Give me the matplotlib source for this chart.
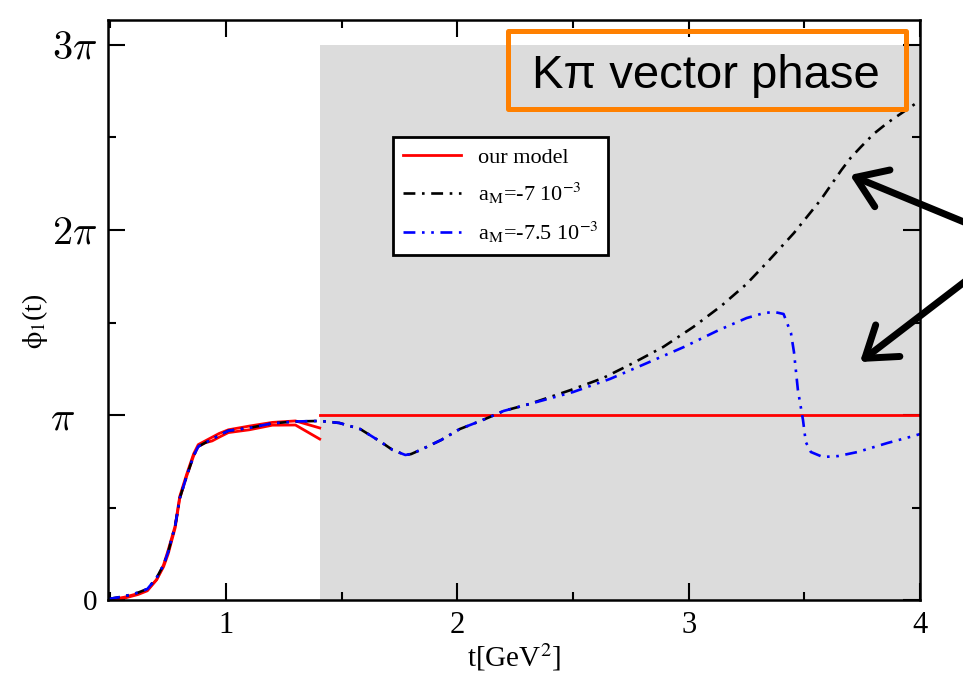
import numpy as np
import matplotlib.pyplot as plt
from matplotlib.patches import Rectangle, FancyArrowPatch
from matplotlib.font_manager import FontProperties

plt.rcParams['font.family'] = 'Liberation Serif'
plt.rcParams['mathtext.fontset'] = 'stix'

PI = np.pi

# low energy part (phase in units of pi), shared by the two a_M curves
t_low = [0.49, 0.56, 0.62, 0.66, 0.70, 0.73, 0.75, 0.78, 0.80, 0.83, 0.86, 0.88,
         0.91, 0.94, 0.97, 1.01, 1.10, 1.20, 1.30, 1.405]
phi_low = [0.005, 0.02, 0.04, 0.06, 0.12, 0.19, 0.26, 0.40, 0.55, 0.67, 0.78, 0.83,
           0.85, 0.87, 0.89, 0.915, 0.93, 0.955, 0.965, 0.968]

# our model: two red curves below the cut, then constant pi
phi_red_a = [0.0, 0.015, 0.035, 0.055, 0.11, 0.19, 0.27, 0.40, 0.56, 0.68, 0.79, 0.84,
             0.86, 0.88, 0.90, 0.92, 0.94, 0.96, 0.968, 0.93]
phi_red_b = [0.0, 0.01, 0.03, 0.05, 0.11, 0.18, 0.25, 0.39, 0.55, 0.67, 0.78, 0.83,
             0.85, 0.86, 0.88, 0.905, 0.92, 0.945, 0.946, 0.87]
t_model_hi = [1.405, 4.0]
phi_model_hi = [1.0, 1.0]

# common part above the cut
t_mid = [1.49, 1.58, 1.67, 1.72, 1.775, 1.80, 1.84, 1.93, 2.01, 2.10, 2.17, 2.20, 2.31]
phi_mid = [0.957, 0.924, 0.854, 0.811, 0.784, 0.789, 0.811, 0.865, 0.924, 0.968, 1.005,
           1.022, 1.059]

# a_M = -7e-3
t_am7 = [2.49, 2.63, 2.76, 2.89, 3.02, 3.14, 3.25, 3.35, 3.455, 3.57, 3.66, 3.70,
         3.745, 3.80, 3.86, 3.93, 4.0]
phi_am7 = [1.135, 1.200, 1.281, 1.368, 1.476, 1.589, 1.708, 1.84, 1.984, 2.162, 2.324,
           2.39, 2.45, 2.52, 2.58, 2.64, 2.70]

# a_M = -7.5e-3
t_am75 = [2.50, 2.66, 2.82, 2.98, 3.13, 3.25, 3.325, 3.37, 3.41, 3.442, 3.455, 3.472,
          3.494, 3.506, 3.528, 3.58, 3.645, 3.73, 3.86, 3.97, 4.0]
phi_am75 = [1.124, 1.195, 1.281, 1.368, 1.459, 1.524, 1.551, 1.557, 1.546, 1.443, 1.34,
            1.135, 0.973, 0.854, 0.80, 0.773, 0.778, 0.80, 0.849, 0.886, 0.897]

yticks = [0, PI, 2 * PI, 3 * PI]
ytick_labels = ['0', r'$\pi$', r'$2\pi$', r'$3\pi$']

shade_start = 1.405
shade_top = 3 * PI

fig = plt.figure(figsize=(9.63, 6.76), dpi=100)
ax = fig.add_axes([0.1122, 0.1124, 0.8432, 0.8580])

ax.add_patch(Rectangle((shade_start, 0), 4.0 - shade_start, shade_top,
                       facecolor='#dcdcdc', edgecolor='none', zorder=0))

ax.plot(t_low, np.array(phi_red_a) * PI, color='red', lw=2.0)
ax.plot(t_low, np.array(phi_red_b) * PI, color='red', lw=2.0)
ax.plot(t_model_hi, np.array(phi_model_hi) * PI, color='red', lw=2.0, label='our model')

t7 = t_low + t_mid + t_am7
p7 = np.array(phi_low + phi_mid + phi_am7) * PI
ax.plot(t7, p7, color='black', lw=1.9, ls=(0, (4.5, 2.5, 1, 2.5)),
        label=r'a$_{\rm M}$=-7 10$^{-3}$')

t75 = t_low + t_mid + t_am75
p75 = np.array(phi_low + phi_mid + phi_am75) * PI
ax.plot(t75, p75, color='blue', lw=1.9, ls=(0, (4.5, 2.5, 1, 2.5, 1, 2.5)),
        label=r'a$_{\rm M}$=-7.5 10$^{-3}$')

ax.set_xlim(0.49, 4.0)
ax.set_ylim(0, 3.135 * PI)

ax.set_xticks([1, 2, 3, 4])
ax.set_xticks([0.5, 1.5, 2.5, 3.5], minor=True)
ax.set_xticklabels(['1', '2', '3', '4'], fontsize=22)
ax.set_yticks(yticks)
ax.set_yticks([PI / 2, 3 * PI / 2, 5 * PI / 2], minor=True)
# the single pi label sits further left in the original, so it is drawn on its own
shown = [lab if i != 1 else '' for i, lab in enumerate(ytick_labels)]
ylabels = ax.set_yticklabels(shown, math_fontfamily='cm', fontsize=29)
ylabels[0].set_fontsize(21)
ax.text(-0.041, yticks[1], ytick_labels[1], transform=ax.get_yaxis_transform(),
        ha='right', va='center_baseline', fontsize=29, math_fontfamily='cm')

ax.tick_params(which='both', direction='in', top=True, right=True, width=1.5)
ax.tick_params(which='major', length=12, pad=8)
ax.tick_params(which='minor', length=6)
for s in ax.spines.values():
    s.set_linewidth(1.8)

ax.set_xlabel(r't[GeV$^2$]', fontsize=21, labelpad=1)
ax.set_ylabel(r'$\mathrm{\phi}_{\rm 1}$(t)', fontsize=20)
ax.yaxis.set_label_coords(-0.072, 0.48)

leg = ax.legend(loc='upper left', bbox_to_anchor=(0.351, 0.798), borderaxespad=0,
                prop=FontProperties(family='Liberation Serif', size=16, math_fontfamily='stix'),
                fancybox=False, framealpha=1, edgecolor='black',
                handlelength=2.6, handletextpad=0.75, labelspacing=0.6, borderpad=0.45)
leg.get_frame().set_linewidth(2)

# title box
fig.add_artist(Rectangle((508 / 963, 1 - 109 / 676), 398 / 963, 78 / 676,
                         transform=fig.transFigure, fill=False, edgecolor='#ff8000',
                         lw=3.6, joinstyle='round', zorder=5))
fig.text(706 / 963, 1 - 88 / 676, 'Kπ vector phase', ha='center', va='baseline',
         family='Liberation Sans', fontsize=34, zorder=6)

# arrows coming from the right margin
for tip, tail in [((850, 175), (1010, 241)), ((860, 362), (1010, 247))]:
    fig.add_artist(FancyArrowPatch((tail[0] / 963, 1 - tail[1] / 676),
                                   (tip[0] / 963, 1 - tip[1] / 676),
                                   transform=fig.transFigure,
                                   arrowstyle='->,head_length=0.8,head_width=0.55',
                                   mutation_scale=26, lw=5, color='black',
                                   shrinkA=0, shrinkB=0, zorder=7))

fig.savefig('out.png', dpi=100)
